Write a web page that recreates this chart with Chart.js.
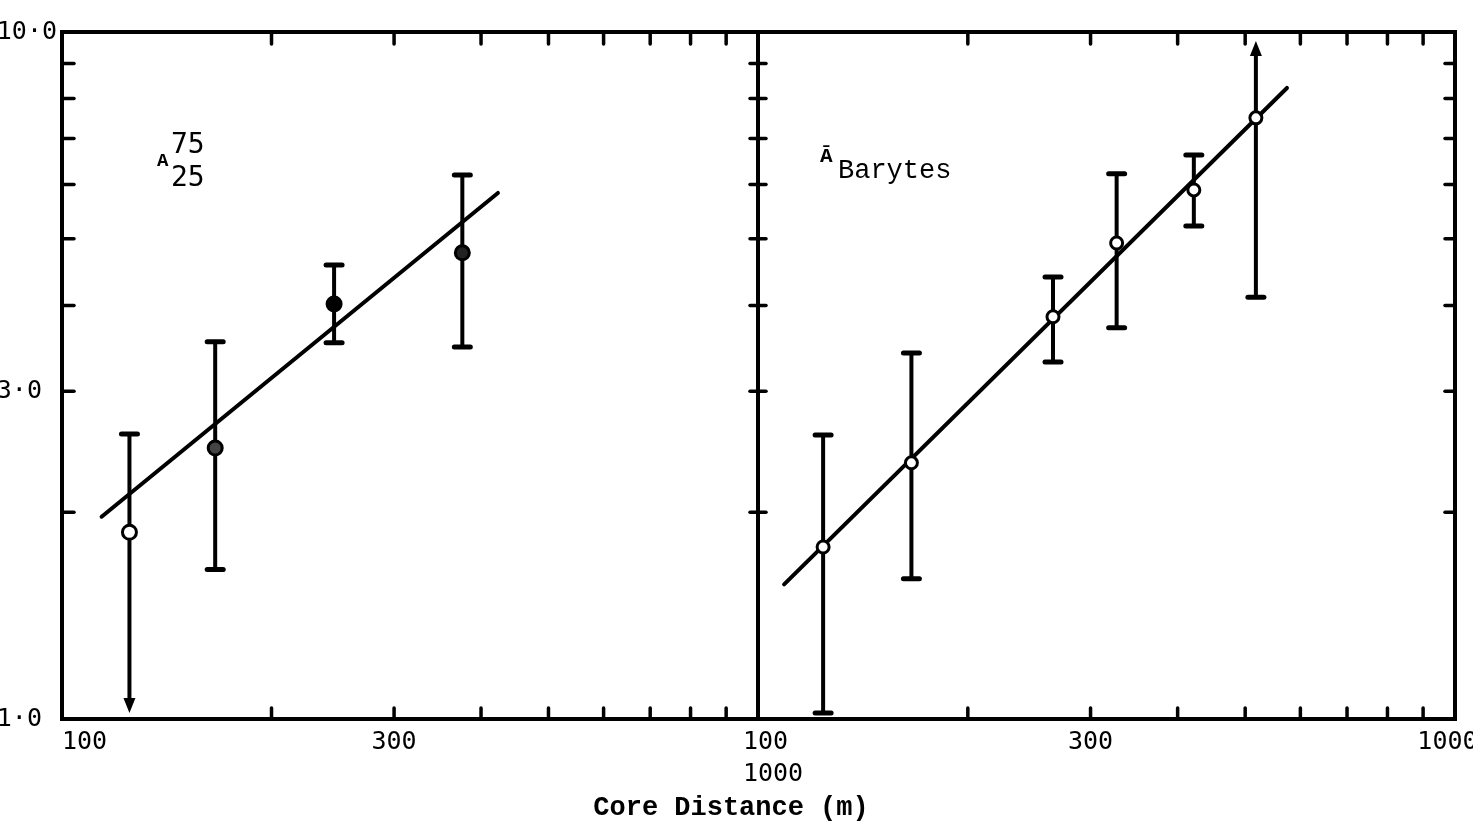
<!DOCTYPE html>
<html><head><meta charset="utf-8">
<script src="https://cdn.jsdelivr.net/npm/chart.js@4.4.1/dist/chart.umd.min.js"></script>
<style>
html,body{margin:0;padding:0;background:#fff;overflow:hidden;}
#wrap{position:relative;width:1473px;height:829px;background:#fff;}
canvas{position:absolute;left:0;top:0;}
</style></head><body>
<div id="wrap"><canvas id="cA" width="1473" height="829"></canvas><canvas id="cB" width="1473" height="829"></canvas></div>
<script>
// ---------- data ----------
const xTickValues = [100, 300, 1000];
const xTickLabels = ['100', '300', '1000'];
const yTickValues = [1, 3, 10];
const yTickLabels = ['1·0', '3·0', '10·0'];
const xMinorTicks = [200, 300, 400, 500, 600, 700, 800, 900];
const yMinorTicks = [2, 3, 4, 5, 6, 7, 8, 9];

const leftDistance = [125, 166, 246, 376];
const leftValue    = [1.87, 2.48, 4.02, 4.77];
const leftUpper    = [2.60, 3.54, 4.58, 6.19];
const leftLower    = [1.02, 1.65, 3.53, 3.48];
const leftUpperIsLimit = [false, false, false, false];
const leftLowerIsLimit = [true, false, false, false];
const leftFitDistance = [114, 423];
const leftFitValue    = [1.97, 5.83];

const rightDistance = [124, 166, 265, 327, 422, 518];
const rightValue    = [1.78, 2.36, 3.85, 4.93, 5.89, 7.50];
const rightUpper    = [2.59, 3.41, 4.40, 6.22, 6.62, 9.70];
const rightLower    = [1.02, 1.60, 3.31, 3.71, 5.22, 4.11];
const rightUpperIsLimit = [false, false, false, false, false, true];
const rightLowerIsLimit = [false, false, false, false, false, false];
const rightFitDistance = [109, 574];
const rightFitValue    = [1.57, 8.29];

const axisTitle = 'Core Distance (m)';
// ---------- drawing helpers ----------
const INK = '#000';
const panelPlugin = {
  id: 'panel',
  beforeDatasetsDraw(chart, args, o) {
    const ctx = chart.ctx, xs = chart.scales.x, ys = chart.scales.y;
    ctx.save();
    ctx.strokeStyle = INK; ctx.fillStyle = INK; ctx.lineCap = 'round';
    o.dist.forEach((d, i) => {
      const px = xs.getPixelForValue(d);
      const hi = ys.getPixelForValue(o.upper[i]);
      const lo = ys.getPixelForValue(o.lower[i]);
      let top = hi, bot = lo;
      if (o.upLim[i]) top = hi + 10;
      if (o.loLim[i]) bot = lo - 10;
      ctx.lineWidth = 4;
      ctx.beginPath(); ctx.moveTo(px, top); ctx.lineTo(px, bot); ctx.stroke();
      ctx.lineWidth = 5;
      if (o.upLim[i]) {
        ctx.beginPath(); ctx.moveTo(px, hi); ctx.lineTo(px - 6, hi + 15); ctx.lineTo(px + 6, hi + 15); ctx.closePath(); ctx.fill();
      } else {
        ctx.beginPath(); ctx.moveTo(px - 8, hi); ctx.lineTo(px + 8, hi); ctx.stroke();
      }
      if (o.loLim[i]) {
        ctx.beginPath(); ctx.moveTo(px, lo); ctx.lineTo(px - 6, lo - 15); ctx.lineTo(px + 6, lo - 15); ctx.closePath(); ctx.fill();
      } else {
        ctx.beginPath(); ctx.moveTo(px - 8, lo); ctx.lineTo(px + 8, lo); ctx.stroke();
      }
    });
    ctx.restore();
  },
  afterDraw(chart, args, o) {
    const ctx = chart.ctx, a = chart.chartArea, xs = chart.scales.x, ys = chart.scales.y;
    ctx.save();
    ctx.strokeStyle = INK; ctx.fillStyle = INK;
    ctx.lineWidth = 4; ctx.lineCap = 'square';
    ctx.strokeRect(a.left, a.top, a.right - a.left, a.bottom - a.top);
    ctx.lineCap = 'round'; ctx.lineWidth = 3.5;
    xMinorTicks.forEach(v => {
      const px = xs.getPixelForValue(v);
      ctx.beginPath(); ctx.moveTo(px, a.bottom); ctx.lineTo(px, a.bottom - 11); ctx.stroke();
      ctx.beginPath(); ctx.moveTo(px, a.top); ctx.lineTo(px, a.top + 12); ctx.stroke();
    });
    yMinorTicks.forEach(v => {
      const py = ys.getPixelForValue(v);
      ctx.beginPath(); ctx.moveTo(a.left, py); ctx.lineTo(a.left + o.leftTick, py); ctx.stroke();
      ctx.beginPath(); ctx.moveTo(a.right, py); ctx.lineTo(a.right - o.rightTick, py); ctx.stroke();
    });
    (o.texts || []).forEach(t => {
      ctx.font = t.font; ctx.textAlign = t.align || 'left'; ctx.textBaseline = 'alphabetic';
      ctx.fillText(t.text, t.x, t.y);
    });
    ctx.restore();
  }
};

const monoTick = { family: '"DejaVu Sans Mono", monospace', size: 25, lineHeight: 1.3 };

function makeScales(showY, xLabelFn) {
  return {
    x: {
      type: 'logarithmic', min: 100, max: 1000,
      afterBuildTicks: s => { s.ticks = xTickValues.map(v => ({ value: v })); },
      afterFit: s => { s.height = 110; s.paddingLeft = 0; s.paddingRight = 0; },
      grid: { display: false, drawTicks: false }, border: { display: false },
      ticks: { color: INK, font: monoTick, padding: 7, autoSkip: false, maxRotation: 0, minRotation: 0,
               callback: (v, i) => xLabelFn(xTickLabels[i], i) }
    },
    y: {
      type: 'logarithmic', min: 1, max: 10, display: showY,
      afterBuildTicks: s => { s.ticks = yTickValues.map(v => ({ value: v })); },
      afterFit: s => { s.width = showY ? 62 : 0; },
      grid: { display: false, drawTicks: false }, border: { display: false },
      ticks: { color: INK, font: monoTick, padding: 5, autoSkip: false,
               callback: (v, i) => yTickLabels[i].padEnd(4) }
    }
  };
}

function pts(xa, ya) { return xa.map((x, i) => ({ x, y: ya[i] })); }

const baseOpts = {
  responsive: false, animation: false, devicePixelRatio: 1,
  events: [],
};

new Chart(document.getElementById('cA'), {
  data: {
    datasets: [
      { type: 'scatter', data: pts(leftDistance, leftValue), pointRadius: 7, pointBorderWidth: 3,
        pointBorderColor: INK, pointBackgroundColor: ['#fff', '#444', '#000', '#222'] },
      { type: 'line', data: pts(leftFitDistance, leftFitValue), borderColor: INK, borderWidth: 4,
        pointRadius: 0, borderCapStyle: 'round', fill: false }
    ]
  },
  options: Object.assign({}, baseOpts, {
    layout: { padding: { left: 0, right: 1473 - 758, top: 32, bottom: 0 } },
    scales: makeScales(true, (t, i) => i === 0 ? t.padStart(6) : (i === 2 ? ['', t.padStart(6)] : t)),
    plugins: {
      legend: { display: false }, tooltip: { enabled: false },
      panel: {
        dist: leftDistance, upper: leftUpper, lower: leftLower,
        upLim: leftUpperIsLimit, loLim: leftLowerIsLimit, leftTick: 12, rightTick: 8,
        texts: [
          { text: 'A', x: 157, y: 166, font: 'bold 19px "Liberation Mono"' },
          { text: '75', x: 171, y: 153, font: '28px "DejaVu Sans Mono"' },
          { text: '25', x: 171, y: 186, font: '28px "DejaVu Sans Mono"' },
          { text: axisTitle, x: 731, y: 815, align: 'center', font: 'bold 27px "Liberation Mono"' }
        ]
      }
    }
  }),
  plugins: [panelPlugin]
});

new Chart(document.getElementById('cB'), {
  data: {
    datasets: [
      { type: 'scatter', data: pts(rightDistance, rightValue), pointRadius: 6, pointBorderWidth: 3,
        pointBorderColor: INK, pointBackgroundColor: '#fff' },
      { type: 'line', data: pts(rightFitDistance, rightFitValue), borderColor: INK, borderWidth: 4,
        pointRadius: 0, borderCapStyle: 'round', fill: false }
    ]
  },
  options: Object.assign({}, baseOpts, {
    layout: { padding: { left: 758, right: 1473 - 1455, top: 32, bottom: 0 } },
    scales: makeScales(false, (t, i) => i === 0 ? t.padStart(4) : (i === 2 ? t.padEnd(5) : t)),
    plugins: {
      legend: { display: false }, tooltip: { enabled: false },
      panel: {
        dist: rightDistance, upper: rightUpper, lower: rightLower,
        upLim: rightUpperIsLimit, loLim: rightLowerIsLimit, leftTick: 8, rightTick: 10,
        texts: [
          { text: 'Ā', x: 820, y: 162, font: 'bold 21px "Liberation Mono"' },
          { text: 'Barytes', x: 838, y: 178, font: '27px "Liberation Mono"' }
        ]
      }
    }
  }),
  plugins: [panelPlugin]
});
</script>
</body></html>
